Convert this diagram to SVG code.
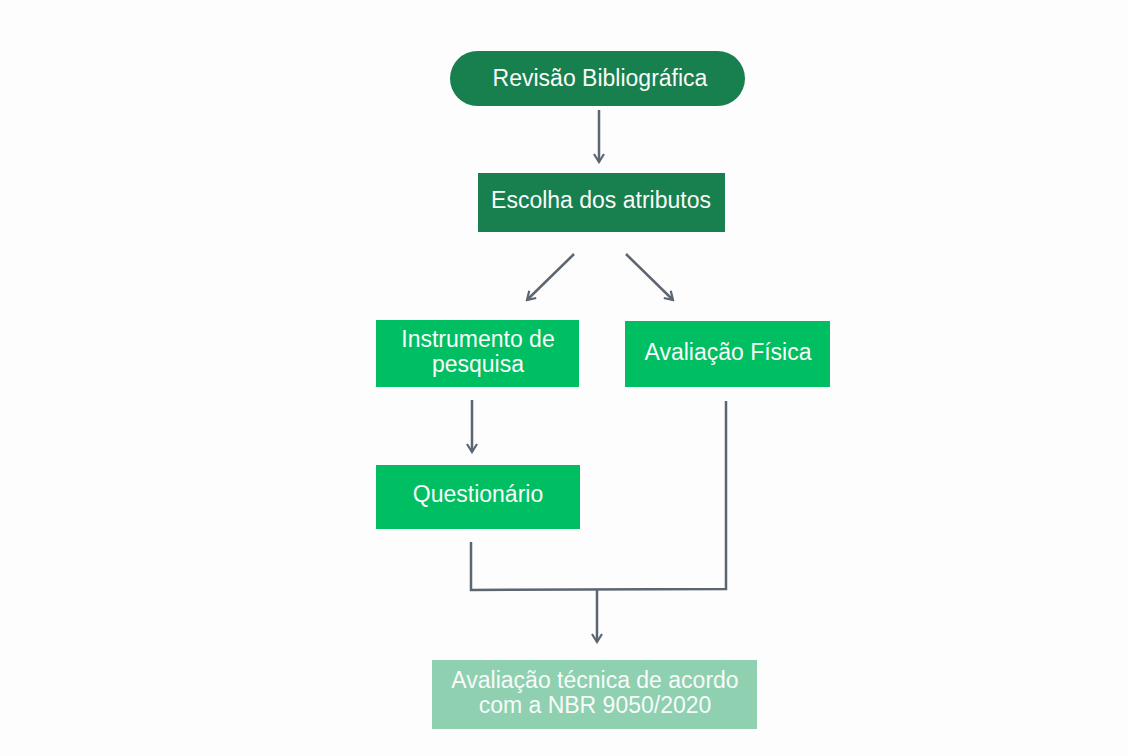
<svg xmlns="http://www.w3.org/2000/svg" width="1128" height="756" viewBox="0 0 1128 756">
<defs>
<style>
.lbl{font-family:"Liberation Sans",Arial,sans-serif;font-size:23px;fill:#f8fbf9;text-anchor:middle}
.dark{fill:#187f4f}
.bright{fill:#00bf63}
.pale{fill:#8ed0b0}
.con{stroke:#5b6670;stroke-width:2.5;fill:none}
</style>
<marker id="ah" viewBox="0 0 12 12" refX="10" refY="6" markerWidth="12" markerHeight="12" markerUnits="userSpaceOnUse" orient="auto">
<path d="M2,1 L10,6 L2,11" fill="none" stroke="#5b6670" stroke-width="2.2"/>
</marker>
</defs>
<rect width="1128" height="756" fill="#fdfdfd"/>
<g id="connectors">
<line class="con" x1="599" y1="110" x2="599" y2="162" marker-end="url(#ah)"/>
<line class="con" x1="574" y1="254" x2="527" y2="300" marker-end="url(#ah)"/>
<line class="con" x1="626" y1="254" x2="673" y2="300" marker-end="url(#ah)"/>
<line class="con" x1="472" y1="400" x2="472" y2="452" marker-end="url(#ah)"/>
<polyline class="con" points="471,542 471,590 726,589 726,401"/>
<line class="con" x1="597" y1="590" x2="597" y2="642" marker-end="url(#ah)"/>
</g>
<g id="revisao">
<rect class="dark" x="450" y="51" width="295" height="55" rx="27.5"/>
<text class="lbl" x="600" y="86">Revisão Bibliográfica</text>
</g>
<g id="escolha">
<rect class="dark" x="478" y="173" width="247" height="59"/>
<text class="lbl" x="601" y="208">Escolha dos atributos</text>
</g>
<g id="instrumento">
<rect class="bright" x="376" y="320" width="203" height="67"/>
<text class="lbl" x="478" y="347">Instrumento de</text>
<text class="lbl" x="478" y="372">pesquisa</text>
</g>
<g id="avaliacao-fisica">
<rect class="bright" x="625" y="321" width="205" height="66"/>
<text class="lbl" x="728" y="360">Avaliação Física</text>
</g>
<g id="questionario">
<rect class="bright" x="376" y="465" width="204" height="64"/>
<text class="lbl" x="478" y="502">Questionário</text>
</g>
<g id="avaliacao-tecnica">
<rect class="pale" x="432" y="660" width="325" height="69"/>
<text class="lbl" x="595" y="688">Avaliação técnica de acordo</text>
<text class="lbl" x="595" y="713">com a NBR 9050/2020</text>
</g>
</svg>
